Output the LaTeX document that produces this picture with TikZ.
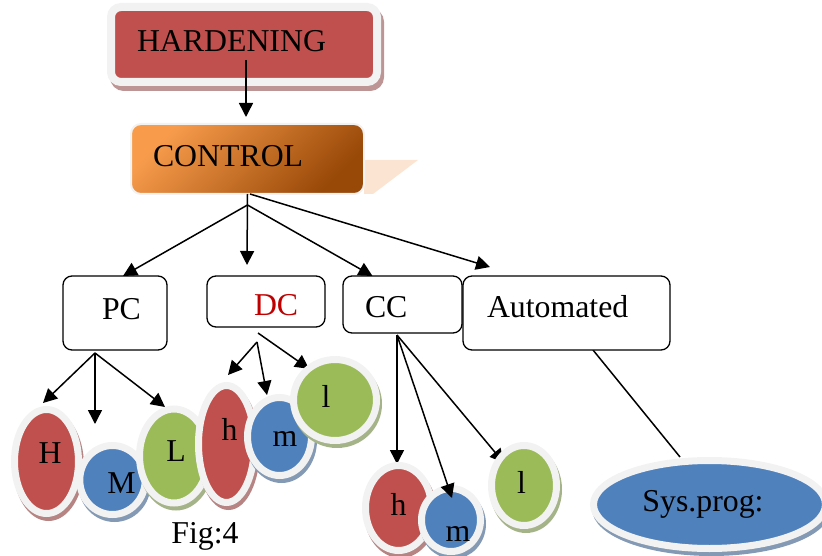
\documentclass[tikz,border=0pt]{standalone}
\usepackage{fontspec}
\setmainfont{Liberation Serif}
\usetikzlibrary{arrows.meta}
\usetikzlibrary{shapes.geometric}

\definecolor{hardred}{HTML}{C0504D}
\definecolor{ballblue}{HTML}{4F81BD}
\definecolor{ballgreen}{HTML}{9BBB59}
\definecolor{ringgray}{HTML}{F2F2F2}
\definecolor{ctllight}{HTML}{F89C4C}
\definecolor{ctldark}{HTML}{984807}
\definecolor{ctlshadow}{HTML}{FCE4D2}
\definecolor{dcred}{HTML}{C00000}

\pgfdeclarelayer{behind}
\pgfsetlayers{behind,main}

\tikzset{
    box/.style = {draw, fill = white, line width = 1.3pt, rounded corners = 9pt, anchor = north west, align = left, inner ysep = 0pt, outer sep = 0pt},
    ball/.style = {ellipse, fill = #1, draw = ringgray, line width = 7pt, inner sep = 0pt, text depth = 0pt,
        preaction = {fill = #1!55!gray, draw = #1!55!gray!80!white, line width = 7pt, transform canvas = {shift = {(2pt,-4pt)}}}},
    link/.style = {->, >={Triangle[length = 14pt, width = 14pt]}, line width = 1.5pt}
}

\begin{document}
\begin{tikzpicture}[x = 1pt, y = -1pt, font = \fontsize{31.8pt}{36pt}\selectfont]
    \useasboundingbox (0,0) rectangle (822,556);

    % top of the tree
    \node[box, draw = ringgray, fill = hardred, line width = 8pt, rounded corners = 10pt, text width = 214pt, inner xsep = 26pt, text height = 45pt, text depth = 30pt,
        preaction = {fill = hardred!60!gray, draw = hardred!50!gray!70!white, line width = 8pt, transform canvas = {shift = {(3pt,-5pt)}}}] (hard) at (111,7) {HARDENING};

    \fill[ctlshadow] (364,160) -- (418,160) -- (373,194) -- (364,194) -- cycle;
    \node[box, draw = ringgray, top color = ctllight, bottom color = ctldark, shading angle = 45, line width = 2pt, rounded corners = 10pt, text width = 189pt, inner xsep = 22pt, text height = 43pt, text depth = 27pt] (control) at (131,124) {CONTROL};

    \draw[link] ([xshift = 2pt, yshift = 22pt]hard.south) -- ([xshift = -1.5pt, yshift = 7pt]control.north);

    % second row
    \node[box, text width = 26pt, inner xsep = 39pt, text height = 43pt, text depth = 31pt] (pc) at (63,276) {PC};
    \node[box, text width = 24pt, inner xsep = 47pt, text height = 39pt, text depth = 12pt, text = dcred] (dc) at (207,276) {DC};
    \node[box, text width = 75pt, inner xsep = 22pt, text height = 41pt, text depth = 16pt] (cc) at (343,276) {CC};
    \node[box, text width = 159pt, inner xsep = 24pt, text height = 41pt, text depth = 33pt] (auto) at (463,276) {Automated};

    \draw[link] (control.south) -- ([xshift = -19pt, yshift = 11pt]dc.north);
    \draw[link] ([yshift = -11pt]control.south) -- ([xshift = 8pt]pc.north);
    \draw[link] ([yshift = -11pt]control.south) -- ([xshift = -30pt]cc.north);
    \draw[link] ([xshift = 2.5pt]control.south) -- ([xshift = -76.5pt, yshift = 9pt]auto.north);

    % leaves
    \node[ball = hardred, minimum width = 64pt, minimum height = 104pt, text height = 3pt] (H1) at (46.5,461.5) {\hspace*{7pt}H};
    \node[ball = ballblue, minimum width = 56pt, minimum height = 69pt, text height = 26pt] (M1) at (112.5,480) {\hspace*{18pt}M};
    \node[ball = ballgreen, minimum width = 69pt, minimum height = 94pt, text height = 10pt] (L1) at (174,456) {\hspace*{4pt}L};

    \node[ball = hardred, minimum width = 56pt, minimum height = 117pt, text height = 0pt, text depth = 8pt] (h1) at (226.5,444) {\hspace*{6pt}h};
    \node[ball = ballblue, minimum width = 64pt, minimum height = 78pt, text height = 19pt] (m1) at (279.5,436.5) {\hspace*{11pt}m};
    \node[ball = ballgreen, minimum width = 83pt, minimum height = 81pt, text height = 14pt] (l1) at (335,400) {l\hspace*{18pt}};

    \node[ball = hardred, minimum width = 66pt, minimum height = 85pt, text height = 14pt] (h2) at (398.5,508) {h};
    \node[ball = ballblue, minimum width = 59pt, minimum height = 63pt, text height = 42pt] (m2) at (451,520) {\hspace*{14pt}m};
    \node[ball = ballgreen, minimum width = 65pt, minimum height = 80pt, text height = 15pt] (l2) at (524,485.5) {l\hspace*{5pt}};

    \node[ball = ballblue, minimum width = 232pt, minimum height = 88pt, text height = 13pt] (sys) at (709.5,504.5) {Sys.prog:\hspace*{13pt}};

    \begin{pgfonlayer}{behind}
        \draw[link] ([xshift = -20pt, yshift = -3pt]pc.south) -- ([xshift = -3.5pt, yshift = 3pt]H1.north);
        \draw[link] ([xshift = -20pt, yshift = -3pt]pc.south) -- ([xshift = -17.5pt, yshift = 18pt]M1.north);
        \draw[link] ([xshift = -20pt, yshift = -3pt]pc.south) -- ([xshift = -9pt, yshift = -1.5pt]L1.north);
        \draw[link] ([xshift = -9pt, yshift = -15pt]dc.south) -- ([xshift = 1.5pt, yshift = 7pt]h1.north);
        \draw[link] ([xshift = -9pt, yshift = -15pt]dc.south) -- ([xshift = -12.5pt, yshift = -1pt]m1.north);
        \draw[link] ([xshift = -8pt, yshift = -6pt]dc.south) -- ([xshift = 6pt]l1.north west);
        \draw[link] ([xshift = -5.5pt, yshift = -2pt]cc.south) -- ([xshift = -5.5pt, yshift = -2pt]cc.south |- h2.north);
        \draw[link] ([xshift = -5.5pt, yshift = -2pt]cc.south) -- ([xshift = -20pt, yshift = 22.5pt]l2.center);
        \draw[line width = 1.5pt] ([xshift = 26.5pt]auto.south) -- ([xshift = -29.5pt]sys.north);
    \end{pgfonlayer}
    \draw[link] ([xshift = -5.5pt, yshift = -2pt]cc.south) -- ([xshift = 1pt, yshift = -13pt]m2.north);

    \node (fig) at (205,536) {Fig:4};
\end{tikzpicture}
\end{document}
